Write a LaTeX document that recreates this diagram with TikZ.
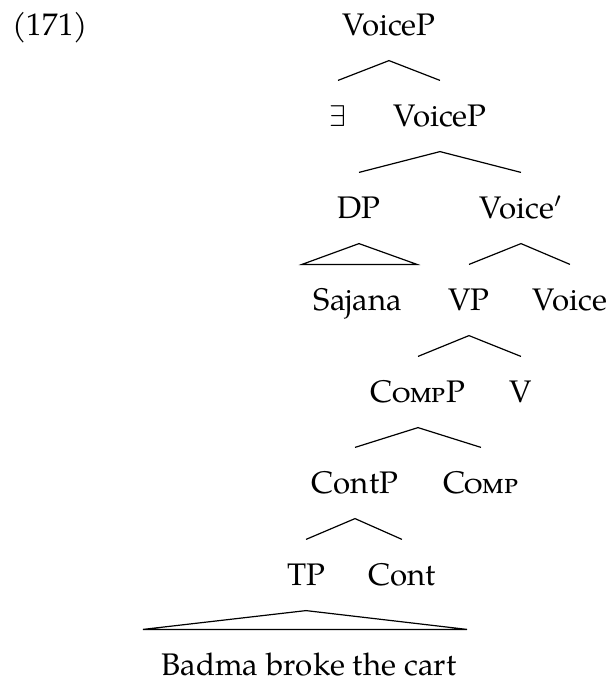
\documentclass[tikz,border=0pt]{standalone}
\usepackage{fontspec}
\setmainfont{TeX Gyre Pagella}
\usetikzlibrary{calc}
\begin{document}
\begin{tikzpicture}[x=0.33333pt,y=-0.33333pt,
  lab/.style={inner sep=0pt, text height=15pt, text depth=8.33pt, anchor=base,
              font=\fontsize{10.4}{12}\selectfont},
  br/.style={line width=0.4pt, line join=miter}]
\useasboundingbox (0,0) rectangle (611,680);
% labels
\node[lab,anchor=base west] (ex) at (12,35) {(171)};
\node[lab] (vp1) at (389,35) {VoiceP};
\node[lab] (ex2) at (338,126) {$\exists$};
\node[lab] (vp2) at (440,126) {VoiceP};
\node[lab] (dp) at (359,218) {DP};
\node[lab] (vbar) at (521,218) {Voice$'$};
\node[lab] (saj) at (358,310) {Sajana};
\node[lab] (vp) at (469,310) {VP};
\node[lab] (voice) at (570,310) {Voice};
\node[lab] (compp) at (418,402) {\textsc{Comp}P};
\node[lab] (v) at (521,402) {V};
\node[lab] (contp) at (355,493) {ContP};
\node[lab] (comp) at (481,493) {\textsc{Comp}};
\node[lab] (tp) at (306,585) {TP};
\node[lab] (cont) at (402,585) {Cont};
\node[lab, text depth=0pt] (bb) at (309,675) {Badma broke the cart};
% branches
\draw[br] (ex2.north) -- (vp1.south) -- (vp2.north);
\draw[br] (dp.north) -- (vp2.south) -- (vbar.north);
\draw[br] (dp.south) -- ($(saj.north)+(-56,0)$) -- ($(saj.north)+(59,0)$) -- cycle;
\draw[br] (vp.north) -- (vbar.south) -- (voice.north);
\draw[br] (compp.north) -- (vp.south) -- (v.north);
\draw[br] (contp.north) -- (compp.south) -- (comp.north);
\draw[br] (tp.north) -- (contp.south) -- (cont.north);
\draw[br] (tp.south) -- ($(bb.north)+(-166,0)$) -- ($(bb.north)+(158,0)$) -- cycle;
\end{tikzpicture}
\end{document}
